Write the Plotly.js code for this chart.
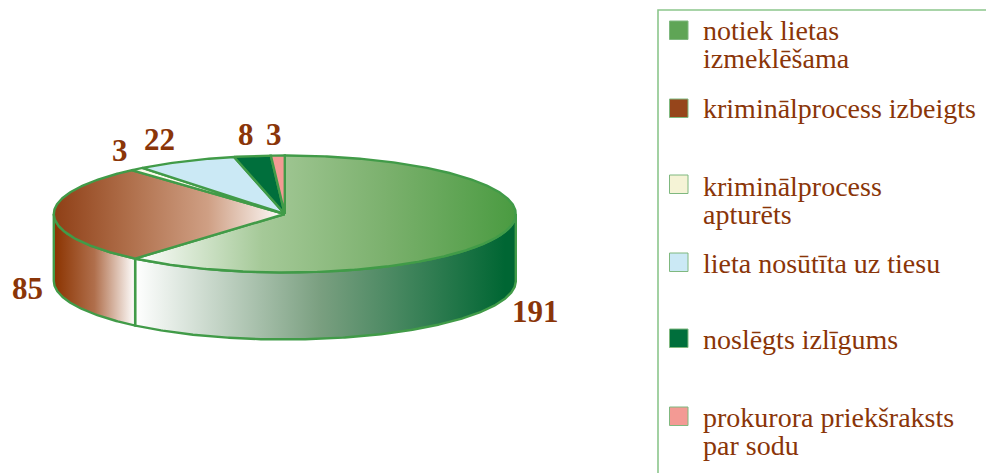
<!DOCTYPE html>
<html>
<head>
<meta charset="utf-8">
<script src="https://cdn.plot.ly/plotly-3.0.1.min.js"></script>
<style>html,body{margin:0;padding:0;background:#fff}#chart{width:986px;height:473px}</style>
</head>
<body>
<div id="chart"></div>
<script>
// Data
const categories = ["notiek lietas izmeklēšama", "kriminālprocess izbeigts", "kriminālprocess apturēts", "lieta nosūtīta uz tiesu", "noslēgts izlīgums", "prokurora priekšraksts par sodu"];
const values = [191, 85, 3, 22, 8, 3];
const legendLines = [["notiek lietas", "izmeklēšama"], ["kriminālprocess izbeigts"], ["kriminālprocess", "apturēts"], ["lieta nosūtīta uz tiesu"], ["noslēgts izlīgums"], ["prokurora priekšraksts", "par sodu"]];

// Styles
const W = 986, H = 473;
const CX = 284.8, CY = 214, RX = 231, RY = 58.5, DEPTH = 67;
const outline = "#419b48";
const textColor = "#8a3508";
const swatchColors = ["#5fa556", "#96451b", "#f5f3d6", "#cbe9f5", "#006f3c", "#f39a94"];
const swatchY = [21, 99, 175, 253, 329, 407];
const legendTextY = [[31, 59], [109], [186, 214], [263], [339], [417, 445]];
const labelPos = [[535, 311], [27, 288], [119.5, 150], [159, 139], [245.5, 134], [273.5, 134]];
const topFills = [
  {colors: ["#ffffff", "#a5c998", "#7ab06c", "#4a9b41"], from: 135, to: 516},
  {colors: ["#8f3f16", "#b0704c", "#cf9f84", "#ffffff"], from: 54, to: 285},
  {color: "#fbfaeb"}, {color: "#cbe9f5"}, {color: "#006f3c"}, {color: "#f39a94"}
];
const sideFills = [
  {colors: ["#ffffff", "#7a9f80", "#006633"], from: 135, to: 505},
  {colors: ["#8b3300", "#b06f4c", "#ffffff"], from: 54, to: 135}
];

// Data units: one pie radius on each axis, so the ellipse comes from the axis scales
const xr = [(0 - CX) / RX, (W - CX) / RX];
const yr = [(CY - H) / RY, CY / RY];
const dep = DEPTH / RY;
const toX = a => Math.sin(a);
const toY = a => Math.cos(a);
const pxX = p => (p - CX) / RX;
const pxY = p => (CY - p) / RY;
const total = values.reduce((s, v) => s + v, 0);

function arc(a0, a1) {
  const n = Math.max(2, Math.ceil(Math.abs(a1 - a0) / (Math.PI / 360)));
  const out = [];
  for (let i = 0; i <= n; i++) out.push(a0 + (a1 - a0) * i / n);
  return out;
}
function gradient(st) {
  const n = st.colors.length - 1;
  return {type: "horizontal", start: pxX(st.from), stop: pxX(st.to),
          colorscale: st.colors.map((c, i) => [i / n, c])};
}
function poly(xs, ys, st, width) {
  const t = {type: "scatter", mode: "lines", x: xs, y: ys, fill: "toself",
             line: {color: outline, width: width, shape: "linear"}, hoverinfo: "skip", showlegend: false};
  if (st.colors) t.fillgradient = gradient(st); else t.fillcolor = st.color;
  return t;
}

const spans = [];
let acc = 0;
values.forEach(v => {
  const a0 = acc / total * 2 * Math.PI;
  acc += v;
  spans.push([a0, acc / total * 2 * Math.PI]);
});

const traces = [];
// Visible rim: front half of the ellipse only (clockwise angles 90 to 270 degrees)
spans.forEach((s, i) => {
  const a0 = Math.max(s[0], Math.PI / 2), a1 = Math.min(s[1], 3 * Math.PI / 2);
  if (a1 <= a0 || !sideFills[i]) return;
  const a = arc(a0, a1);
  const xs = a.map(toX).concat(a.slice().reverse().map(toX));
  const ys = a.map(t => toY(t)).concat(a.slice().reverse().map(t => toY(t) - dep));
  xs.push(xs[0]); ys.push(ys[0]);
  traces.push(poly(xs, ys, sideFills[i], 2.4));
});
// Top face
spans.forEach((s, i) => {
  const a = arc(s[0], s[1]);
  const xs = [0].concat(a.map(toX), [0]);
  const ys = [0].concat(a.map(toY), [0]);
  traces.push(poly(xs, ys, topFills[i], 2.4));
});

// Value labels
const annotations = values.map((v, i) => ({
  x: pxX(labelPos[i][0]), y: pxY(labelPos[i][1]), xref: "x", yref: "y", text: "<b>" + v + "</b>", showarrow: false,
  xanchor: "center", yanchor: "middle",
  font: {family: "Liberation Serif", size: 31, color: textColor}
}));
// Legend text
legendLines.forEach((lines, i) => lines.forEach((ln, j) => annotations.push({
  x: 701 / W, y: 1 - legendTextY[i][j] / H, xref: "paper", yref: "paper", text: ln, showarrow: false,
  xanchor: "left", yanchor: "middle",
  font: {family: "Liberation Serif", size: 28, color: textColor}
})));

// Legend frame and swatches
const shapes = [{
  type: "path", xref: "paper", yref: "paper",
  path: `M ${658 / W} 0 L ${658 / W} ${1 - 10 / H} L 1 ${1 - 10 / H}`,
  line: {color: "#8cc68c", width: 1.6}
}];
swatchColors.forEach((c, i) => shapes.push({
  type: "rect", xref: "paper", yref: "paper",
  x0: 669.5 / W, x1: 688 / W, y0: 1 - swatchY[i] / H, y1: 1 - (swatchY[i] + 18.5) / H,
  fillcolor: c, line: {color: "#7fb87f", width: 1}
}));

const layout = {
  width: W, height: H, margin: {l: 0, r: 0, t: 0, b: 0},
  paper_bgcolor: "#fff", plot_bgcolor: "#fff", showlegend: false,
  xaxis: {range: xr, visible: false, fixedrange: true},
  yaxis: {range: yr, visible: false, fixedrange: true},
  annotations, shapes
};
Plotly.newPlot("chart", traces, layout, {displayModeBar: false, staticPlot: true});
</script>
</body>
</html>
